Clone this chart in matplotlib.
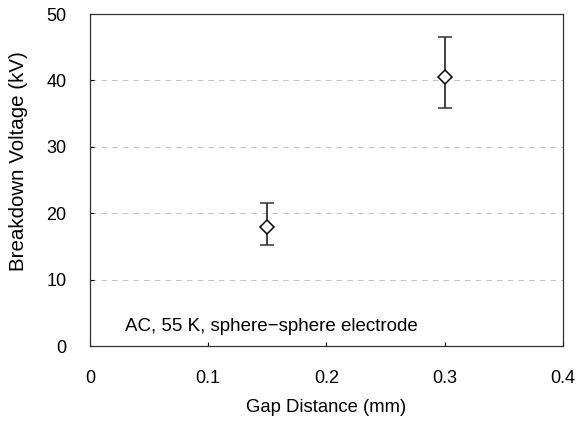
import matplotlib
matplotlib.use('Agg')
import matplotlib.pyplot as plt
import numpy as np

plt.rcParams['font.family'] = ['Liberation Sans', 'DejaVu Sans']

# data
gap = [0.15, 0.30]
voltage = [17.9, 40.5]
err_low = [2.7, 4.6]
err_high = [3.7, 6.1]
xticks = [0, 0.1, 0.2, 0.3, 0.4]
yticks = [0, 10, 20, 30, 40, 50]

fig = plt.figure(figsize=(5.79, 4.21), dpi=100)
ax = fig.add_axes([0.1554, 0.178, 0.8170, 0.7887])

# faint dashed grid like the scanned original
for yv in [10, 20, 30, 40]:
    ax.axhline(yv, color='#c4c4c4', lw=0.7, ls=(0, (6, 5)), zorder=0)

ax.errorbar(gap, voltage, yerr=[err_low, err_high], fmt='D', ms=7,
            mfc='white', mec='black', mew=1.1, ecolor='#333333',
            elinewidth=1.3, capsize=5, capthick=1.3, zorder=3)

ax.set_xlim(0, 0.4)
ax.set_ylim(0, 50)
ax.set_xticks(xticks)
ax.set_xticklabels(['0', '0.1', '0.2', '0.3', '0.4'])
ax.set_yticks(yticks)
ax.tick_params(direction='in', length=3, width=0.8, labelsize=13)
ax.tick_params(axis='x', pad=17)
ax.tick_params(axis='y', pad=17)
for s in ax.spines.values():
    s.set_linewidth(0.9)
    s.set_color('#333333')

ax.set_xlabel('Gap Distance (mm)', fontsize=13.3, labelpad=9)
ax.set_ylabel('Breakdown Voltage (kV)', fontsize=14.8)
ax.yaxis.set_label_coords(-0.13, 0.557)
ax.text(0.075, 0.06, 'AC, 55 K, sphere\u2212sphere electrode',
        transform=ax.transAxes, fontsize=13.5, va='center')

fig.savefig('out.png', dpi=100)
